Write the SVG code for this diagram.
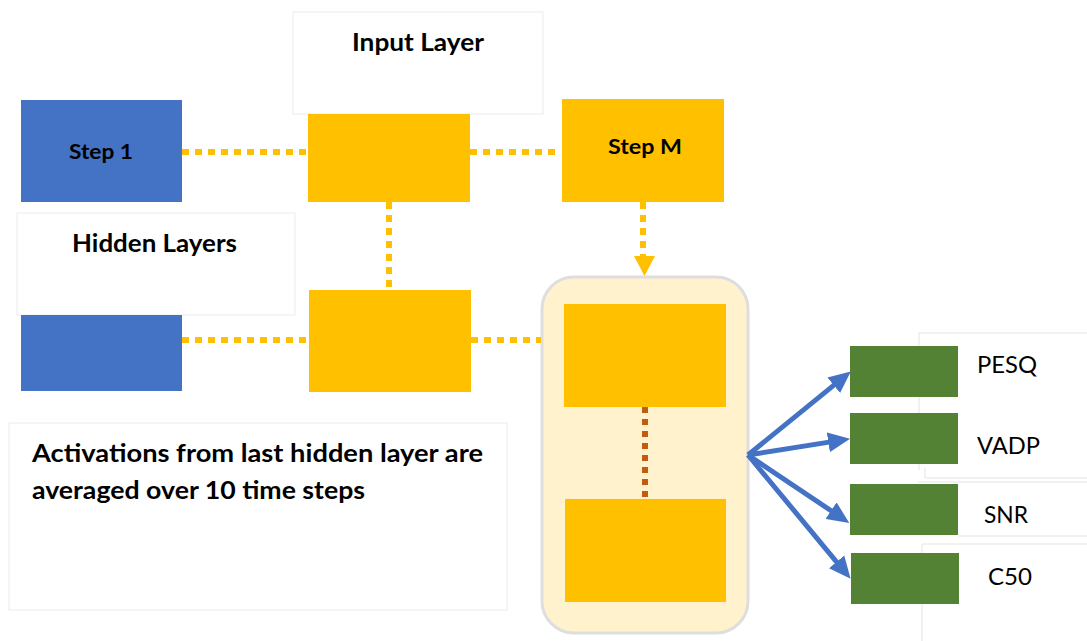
<svg xmlns="http://www.w3.org/2000/svg" width="1087" height="641" viewBox="0 0 1087 641">
  <defs>
    <style>
      .lbl { font-family: Lato, "Open Sans", "Liberation Sans", sans-serif; fill: #000; }
      .b { font-weight: bold; }
      .tbox { fill: #fff; stroke: #ebebeb; stroke-width: 1; }
      .faint { fill: none; stroke: #e3e3e3; stroke-width: 1; }
      .blue { fill: #4472c4; }
      .gold { fill: #ffc000; }
      .green { fill: #548235; }
      .dot { fill: none; stroke: #ffc000; stroke-width: 6; stroke-dasharray: 7 6; }
      .dot-brown { fill: none; stroke: #c55a11; stroke-width: 6; stroke-dasharray: 6 6; }
      .out { fill: none; stroke: #4472c4; stroke-width: 5; marker-end: url(#blueHead); }
    </style>
    <marker id="blueHead" viewBox="0 0 22 20" refX="9" refY="10" markerWidth="22" markerHeight="20" markerUnits="userSpaceOnUse" orient="auto">
      <path d="M0,0 L22,10 L0,20 z" fill="#4472c4"/>
    </marker>
  </defs>

  <rect width="1087" height="641" fill="#fff"/>

  <!-- caption text boxes -->
  <g id="caption-input">
    <rect class="tbox" x="293" y="12" width="250" height="102"/>
    <text class="lbl b" x="352" y="51" font-size="25" textLength="132" lengthAdjust="spacingAndGlyphs">Input Layer</text>
  </g>
  <g id="caption-hidden">
    <rect class="tbox" x="17" y="213" width="278" height="102"/>
    <text class="lbl b" x="72" y="252" font-size="24" textLength="165" lengthAdjust="spacingAndGlyphs">Hidden Layers</text>
  </g>
  <g id="caption-avg">
    <rect class="tbox" x="9" y="423" width="498" height="187"/>
    <text class="lbl b" x="32" y="462" font-size="24" textLength="451" lengthAdjust="spacingAndGlyphs">Activations from last hidden layer are</text>
    <text class="lbl b" x="32" y="499" font-size="24" textLength="333" lengthAdjust="spacingAndGlyphs">averaged over 10 time steps</text>
  </g>

  <!-- label frames on the right -->
  <g id="label-frames">
    <path class="faint" d="M919,333 H1087 M919,333 V470"/>
    <path class="faint" d="M925,468 V478 H1087"/>
    <path class="faint" d="M918,482 H1087 M958,536 H1087"/>
    <path class="faint" d="M922,544 H1087 M922,544 V641"/>
  </g>

  <!-- averaging container -->
  <g id="container">
    <rect x="542" y="277" width="206" height="356" rx="32" ry="32" fill="#fff2cc" stroke="#dedede" stroke-width="3"/>
  </g>

  <!-- connectors -->
  <g id="connectors">
    <line class="dot" x1="182" y1="152" x2="308" y2="152"/>
    <line class="dot" x1="470" y1="152" x2="561" y2="152"/>
    <line class="dot" x1="389" y1="202" x2="389" y2="290"/>
    <line class="dot" x1="182" y1="340" x2="309" y2="340"/>
    <line class="dot" x1="471" y1="340" x2="541" y2="340"/>
    <line class="dot" x1="643" y1="202" x2="643" y2="258"/>
    <path d="M634,256 L655,256 L644.5,276 z" fill="#ffc000"/>
    <line class="dot-brown" x1="645" y1="407" x2="645" y2="499"/>
    <line class="out" x1="748" y1="455" x2="840.7" y2="379.6"/>
    <line class="out" x1="748" y1="455" x2="837.2" y2="440.9"/>
    <line class="out" x1="748" y1="455" x2="838.5" y2="515.7"/>
    <line class="out" x1="748" y1="455" x2="842.3" y2="568.8"/>
  </g>

  <!-- time-step nodes -->
  <g id="step1">
    <rect class="blue" x="21" y="100" width="161" height="102"/>
    <text class="lbl b" x="69" y="159" font-size="21" textLength="64" lengthAdjust="spacingAndGlyphs">Step 1</text>
  </g>
  <g id="input-mid">
    <rect class="gold" x="308" y="114" width="162" height="88"/>
  </g>
  <g id="stepM">
    <rect class="gold" x="562" y="99" width="162" height="103"/>
    <text class="lbl b" x="608" y="154" font-size="21" textLength="74" lengthAdjust="spacingAndGlyphs">Step M</text>
  </g>
  <g id="hidden-first">
    <rect class="blue" x="21" y="315" width="161" height="76"/>
  </g>
  <g id="hidden-mid">
    <rect class="gold" x="309" y="290" width="162" height="102"/>
  </g>
  <g id="avg-top">
    <rect class="gold" x="564" y="304" width="162" height="103"/>
  </g>
  <g id="avg-bottom">
    <rect class="gold" x="565" y="499" width="161" height="103"/>
  </g>

  <!-- output metrics -->
  <g id="out-pesq">
    <rect class="green" x="850" y="346" width="108" height="51"/>
    <text class="lbl" x="977" y="373" font-size="23" textLength="60" lengthAdjust="spacingAndGlyphs">PESQ</text>
  </g>
  <g id="out-vadp">
    <rect class="green" x="850" y="413" width="108" height="51"/>
    <text class="lbl" x="977" y="454" font-size="23" textLength="63" lengthAdjust="spacingAndGlyphs">VADP</text>
  </g>
  <g id="out-snr">
    <rect class="green" x="850" y="484" width="108" height="51"/>
    <text class="lbl" x="984" y="523" font-size="23" textLength="44" lengthAdjust="spacingAndGlyphs">SNR</text>
  </g>
  <g id="out-c50">
    <rect class="green" x="851" y="553" width="108" height="51"/>
    <text class="lbl" x="988" y="585" font-size="23" textLength="44" lengthAdjust="spacingAndGlyphs">C50</text>
  </g>
</svg>
